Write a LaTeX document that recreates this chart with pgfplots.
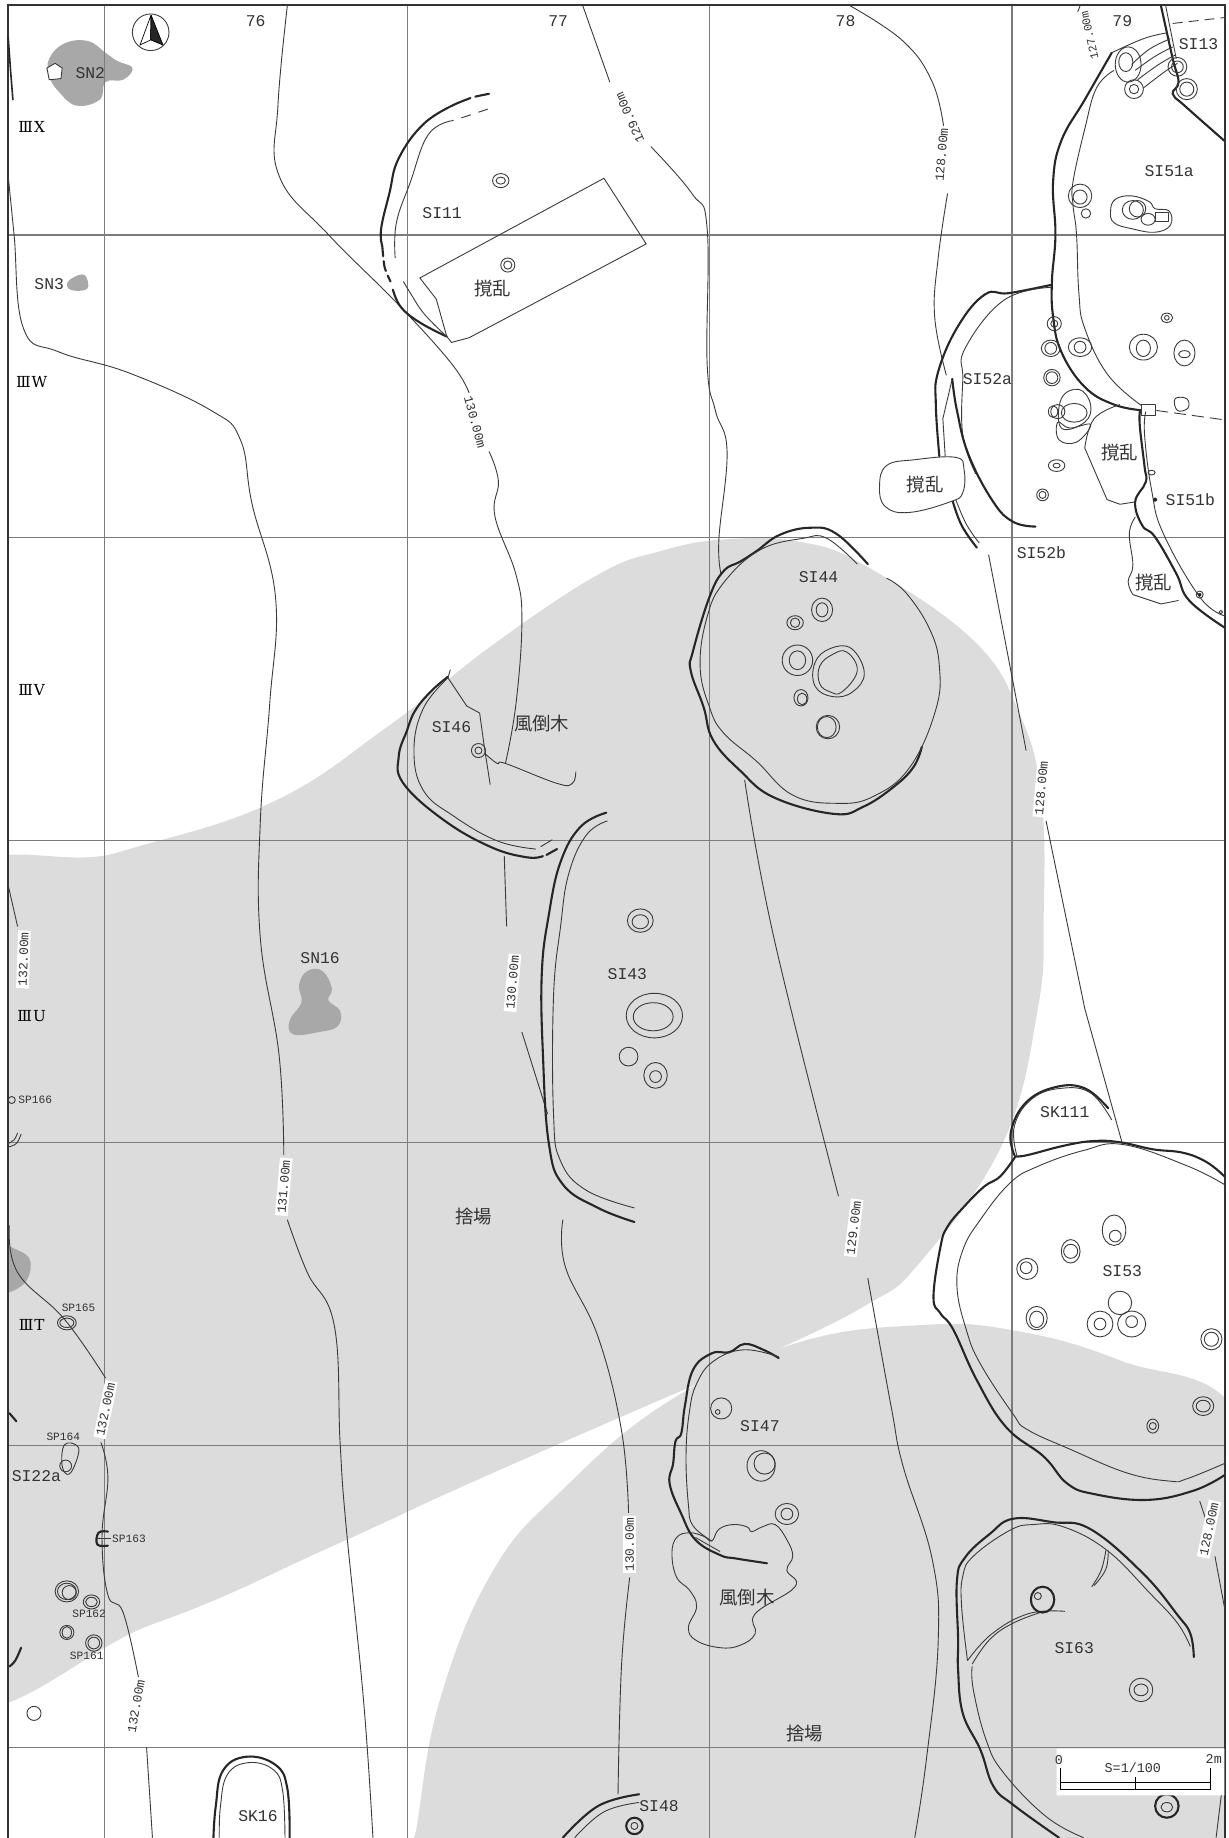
\documentclass[border=0pt]{standalone}
\usepackage{fontspec}
\setmainfont{Liberation Serif}
\setmonofont{Liberation Mono}
\newfontfamily\cjk{Noto Sans CJK JP}
\newfontfamily\rnf{DejaVu Serif}
\usepackage{pgfplots}
\pgfplotsset{compat=1.18}
\definecolor{area}{HTML}{DCDCDC}
\definecolor{ash}{HTML}{A8A8A8}
\definecolor{gridc}{HTML}{7C7C7C}
\definecolor{ink}{HTML}{333333}
\definecolor{ln}{HTML}{3A3A3A}
\tikzset{
  thinl/.style={draw=ln,line width=0.45pt,line join=round},
  thickl/.style={draw=black!85,line width=1.05pt,line join=round,line cap=round},
  lab/.style={font=\ttfamily\fontsize{8.2}{8}\selectfont,text=ink,inner sep=0pt},
  sm/.style={font=\ttfamily\fontsize{5.6}{6}\selectfont,text=ink,inner sep=0pt},
  sb/.style={font=\ttfamily\fontsize{6.7}{7}\selectfont,text=ink,inner sep=0pt},
  con/.style={font=\ttfamily\fontsize{6.4}{6}\selectfont,text=ink,fill=white,inner sep=1pt},
  jp/.style={font=\cjk\fontsize{9.2}{10}\selectfont,text=ink,inner sep=0pt},
  rn/.style={font=\rnf\fontsize{7.6}{9}\selectfont,text=black,inner sep=0pt},
}
\newcommand\thn[1]{\addplot[thinl,smooth,tension=.7] coordinates {#1};}
\newcommand\thk[1]{\addplot[thickl,smooth,tension=.7] coordinates {#1};}
\newcommand\shp[1]{\addplot[thinl] coordinates {#1};}
\newcommand\blob[1]{\addplot[thinl,smooth cycle,tension=.7] coordinates {#1};}
\newcommand\ring[5][thinl]{%
  \pgfmathsetmacro\xa{#2+#4}\pgfmathsetmacro\xb{#2-#4}%
  \pgfmathsetmacro\ya{#3+#5}\pgfmathsetmacro\yb{#3-#5}%
  \edef\tmp{\noexpand\addplot[#1,smooth cycle,tension=1] coordinates {(\xa,#3) (#2,\ya) (\xb,#3) (#2,\yb)};}\tmp}
\newcommand\lb[4][lab]{\node[#1] at (axis cs:#2,#3) {#4};}
\newcommand\cl[4]{\node[con,rotate=#3] at (axis cs:#1,#2) {#4};}
\begin{document}
\begin{tikzpicture}
\begin{axis}[
  width=614.5pt,height=919pt,scale only axis,hide axis,
  xmin=0,xmax=1048,ymin=0,ymax=1567.3,y dir=reverse,no markers]
% gray areas
\addplot[fill=area,draw=none,smooth cycle,tension=.7] coordinates {(-60,772) (100,727) (230,685) (330,620) (420,550) (510,490) (563,470) (617,460) (682,462) (739,483) (830,546) (870,610) (888,680) (890,780) (885,860) (855,975) (784,1077) (740,1112) (660,1152) (560,1195) (400,1265) (280,1320) (130,1385) (-60,1440) (-120,1100)};
\addplot[fill=area,draw=none,smooth cycle,tension=.7] coordinates {(345,1630) (355,1560) (375,1450) (420,1340) (480,1270) (570,1195) (680,1145) (784,1130) (862,1134) (955,1160) (1060,1212) (1090,1400) (1060,1640) (700,1660)};
% ash patches
\addplot[fill=ash,draw=none,smooth cycle,tension=.7] coordinates {(42,50) (55,37) (75,35) (90,45) (100,52) (113,58) (105,68) (90,70) (85,85) (65,90) (50,78) (42,65)};
\addplot[fill=ash,draw=none,smooth cycle,tension=.7] coordinates {(58,240) (70,234) (75,240) (73,247) (60,247)};
\addplot[fill=ash,draw=none,smooth cycle,tension=.7] coordinates {(262,828) (275,828) (283,843) (280,853) (290,862) (288,875) (272,880) (250,882) (247,870) (257,855) (255,840)};
\addplot[fill=ash,draw=none,smooth cycle,tension=.7] coordinates {(0,1065) (15,1066) (26,1076) (20,1095) (0,1100)};
\addplot[fill=white,draw=ln,line width=0.45pt] coordinates {(40,58) (47,54) (53,58) (52,67) (42,68) (40,58)};
% margins outside the frame
\addplot[fill=white,draw=none] coordinates {(-2,-2) (6.5,-2) (6.5,1570) (-2,1570) (-2,-2)};
\addplot[fill=white,draw=none] coordinates {(1044.6,-2) (1050,-2) (1050,1570) (1044.6,1570) (1044.6,-2)};
\addplot[fill=white,draw=none] coordinates {(-2,-2) (1050,-2) (1050,4) (-2,4) (-2,-2)};
% grid
\foreach \x in {89.3,347.5,605,863}{\edef\t{\noexpand\addplot[gridc,line width=0.6pt] coordinates {(\x,4.5) (\x,1567.3)};}\t}
\foreach \y in {200.4,458.5,716.4,974.4,1232.4,1490.3}{\edef\t{\noexpand\addplot[gridc,line width=0.6pt] coordinates {(7,\y) (1044.6,\y)};}\t}
\addplot[black!80,line width=0.9pt] coordinates {(7,1567.3) (7,4.5) (1044.6,4.5) (1044.6,1567.3)};
% contours
\thn{(7,150) (12,200) (20,280) (50,300) (110,318) (180,350) (205,375) (215,430) (235,510) (230,600) (222,700) (222,800) (238,900) (242,985)}
\thn{(245,1040) (262,1085) (285,1130) (290,1230) (295,1300) (310,1450) (318,1567)}
\thn{(245,5) (237,90) (238,150) (280,200) (340,260) (385,310) (400,335)}
\thn{(417,385) (425,410) (422,440) (440,490) (445,530) (440,600) (431,651)}
\thn{(430,730) (432,790)}
\thn{(445,880) (467,950)}
\thn{(480,1040) (482,1080) (510,1140) (530,1220) (536,1290)}
\thn{(537,1345) (530,1420) (527,1530)}
\thn{(497,5) (520,70)} \thn{(555,125) (590,165) (603,195) (603,310) (610,350) (620,385) (613,460) (615,490)}
\thn{(635,665) (660,800) (715,1020)} \thn{(740,1090) (760,1200) (770,1250) (795,1330) (800,1400) (790,1500) (780,1567)}
\thn{(725,5) (770,35) (795,70) (805,110)} \thn{(808,165) (800,220) (797,270) (807,320)}
\shp{(843,473) (875,640)} \shp{(892,700) (925,860) (957,975)}
\shp{(1023,1280) (1028,1295)} \thn{(1036,1327) (1044,1370)}
\thn{(1043,1518) (1037,1567)}
\thn{(921,5) (919,10)}
\thn{(8,1045) (15,1085) (55,1125) (90,1175)}
\thn{(86,1230) (92,1260) (87,1310) (92,1360) (105,1375) (118,1430)}
\thn{(125,1490) (130,1567)}
\thn{(7,755) (15,790)}
\addplot[thickl,line width=0.8pt] coordinates {(7,32) (9,60) (11,85)};
\cl{242}{1012}{85}{131.00m}
\cl{405}{360}{-75}{130.00m}
\cl{437}{838}{85}{130.00m}
\cl{537}{1317}{90}{130.00m}
\cl{537}{100}{114}{129.00m}
\cl{728}{1047}{83}{129.00m}
\cl{803}{132}{85}{128.00m}
\cl{888}{672}{85}{128.00m}
\cl{1031}{1304}{78}{128.00m}
\node[font=\ttfamily\fontsize{5.8}{6}\selectfont,text=ink,inner sep=0pt,rotate=103] at (axis cs:929,30) {127.00m};
\cl{20}{818}{88}{132.00m}
\cl{90}{1202}{78}{132.00m}
\cl{116}{1455}{80}{132.00m}
% north arrow
\ring{128.5}{27.5}{15.6}{15.6}
\addplot[fill=white,draw=black,line width=0.35pt] coordinates {(128.8,12.8) (128.5,34) (119.4,38.4) (128.8,12.8)};
\addplot[fill=black!85,draw=black,line width=0.35pt] coordinates {(128.8,12.8) (128.5,34) (139,38.4) (128.8,12.8)};
% SI11
\addplot[thickl,smooth,dash pattern=on 7pt off 2.5pt] coordinates {(417,80) (403,83) (390,88)};
\thk{(390,88) (362,105) (340,135) (332,165) (325,195) (326,210)}
\addplot[thickl,smooth,dash pattern=on 5pt off 2.5pt] coordinates {(326,210) (328,228) (333,240)};
\thk{(335,247) (342,262) (358,275) (381,287)}
\addplot[thinl,smooth,dash pattern=on 5pt off 4pt] coordinates {(416,93) (395,100) (385,103)};
\thn{(385,103) (365,115) (350,155) (338,190) (337,220)}
\thn{(344,240) (350,250) (362,268) (381,287)}
\shp{(381,287) (372,255) (358,237) (515,152) (551,208) (400,288) (385,292) (381,287)}
\ring{427}{154}{7}{6} \ring{427}{154}{4}{3}
\ring{433}{226}{6}{6} \ring{433}{226}{3.5}{3.5}
% SI51a
\thk{(948,45) (925,85) (905,120) (898,155) (900,200) (897,240) (898,270) (905,300) (925,330) (950,345) (975,350)}
\thn{(950,60) (935,75) (925,110) (915,155) (915,175) (918,200) (920,250) (925,280) (945,320) (975,347)}
\thk{(990,5) (1000,50) (1005,70) (1000,80) (1010,90) (1044,120)}
\thn{(994,5) (1003,50)}
\addplot[thinl,dash pattern=on 5pt off 3pt] coordinates {(1000,20) (1044,15)};
\thn{(948,45) (975,33) (995,28)} \thn{(965,55) (980,42) (998,33)} \thn{(968,60) (985,48) (1000,40)}
\thn{(970,68) (988,55) (1002,47)} \thn{(975,75) (992,62) (1004,54)}
\ring{962}{55}{11}{15} \ring{960}{53}{6}{8}
\ring{967}{76}{8}{8} \ring{967}{76}{4}{4}
\ring{1004}{57}{8}{8} \ring{1004}{57}{5}{5}
\ring{1012}{76}{9}{9} \ring{1012}{76}{6}{6}
\ring{921}{167}{10}{10} \ring{921}{168}{6}{6} \ring{926}{182}{4}{4}
\blob{(951,170) (965,167) (980,172) (985,178) (997,180) (998,192) (985,198) (965,195) (950,190) (947,180)}
\ring{970}{178}{7}{7} \ring{966}{179}{9}{8} \ring{979}{187}{6}{5}
\shp{(985,181) (996,181) (996,189) (985,189) (985,181)}
\ring{995}{271}{5}{4} \ring{995}{271}{2}{2}
\ring{975}{296}{12}{11} \ring{975}{297}{6}{7}
\ring{1010}{301}{9}{11} \ring{1010}{302}{5}{3}
\ring{921}{296}{10}{8} \ring{921}{296}{5}{5}
\ring{899}{276}{6}{6} \ring{899}{276}{3}{3}
\ring{896}{297}{8}{7} \ring{896}{297}{5}{5}
\ring{897}{322}{7}{7} \ring{897}{322}{5}{5}
\blob{(905,340) (920,332) (930,345) (925,360) (905,365)}
\blob{(902,360) (903,375) (918,377) (930,362) (912,365)}
\ring{902}{351}{6}{6} \ring{898}{351}{4}{5} \ring{916}{352}{11}{8}
\ring{901}{397}{7}{5} \ring{901}{397}{3}{2}
\ring{889}{422}{5}{5} \ring{889}{422}{3}{3}
\blob{(1002,340) (1012,340) (1013,348) (1004,350)}
\addplot[fill=white,thinl] coordinates {(973,345) (985,345) (985,354) (973,354) (973,345)};
\addplot[thinl,dash pattern=on 6pt off 3pt] coordinates {(986,350) (1044,358)};
% SI52
\thk{(896,243) (860,250) (840,251) (817,278) (800,317) (798,345) (801,389)}
\thn{(896,245) (856,256) (823,297) (821,323) (821,371) (832,404)}
\shp{(806,389) (804,357) (812,323)}
\thk{(812,323) (816,350) (826,388) (847,428) (864,445) (883,449)}
\thk{(812,426) (820,448) (833,467)} \thn{(815,426) (824,447) (835,463)}
\addplot[fill=white,thinl,smooth cycle,tension=.7] coordinates {(750,415) (756,397) (780,392) (815,390) (822,400) (821,420) (810,428) (775,437) (755,432)};
% SI51b
\thk{(972,351) (972,364) (976,398) (977,411) (968,428) (974,448) (985,458) (1003,489) (1014,512) (1044,535)}
\thn{(977,351) (976,371) (982,418) (992,455) (1023,509) (1044,525)}
\thn{(955,345) (933,357) (925,382)} \shp{(925,382) (944,426) (955,430) (968,428)}
\thn{(968,441) (963,455) (966,482) (962,496) (966,507)} \shp{(966,507) (990,515) (1005,512)}
\ring{982}{403}{3}{2} \ring[thickl]{985}{426}{1}{1} \ring{1023}{507}{3}{3} \ring[thickl]{1023}{507}{.7}{.7}
\ring{1041}{522}{1.5}{1.5}
% SI44
\thk{(740,481) (713,455) (691,450) (665,456) (645,470) (631,479) (617,487) (605,509) (591,555) (589,572) (600,603) (608,631) (631,657) (660,680) (711,694) (736,688) (762,671) (779,654) (786,637)}
\thn{(731,481) (705,459) (685,459) (648,469) (617,497) (603,526) (597,568) (605,603) (617,625) (645,649) (676,678) (714,685) (745,679) (776,654) (798,605) (801,568) (793,537) (773,506) (756,493)}
\ring{701}{520}{9}{10} \ring{701}{520}{5}{6}
\ring{678}{531}{7}{6} \ring{678}{531}{4}{4}
\ring{680}{563}{13}{13} \ring{680}{563}{7}{8}
\blob{(737,574) (726,553) (708,553) (695,565) (695,585) (710,594) (727,590)}
\blob{(731,572) (722,556) (710,558) (699,568) (699,583) (708,590) (718,590)}
\ring{683}{595}{6}{7} \ring{684}{596}{4}{5}
\ring{706}{620}{10}{10} \ring{705}{620}{8}{9}
% SI46
\thk{(382,577) (367,590) (354,606) (347,623) (340,645) (344,668) (378,699) (418,722) (449,731) (463,730)}
\thk{(466,729) (475,724)}
\thn{(382,578) (361,604) (353,640) (361,674) (387,696) (424,717) (457,724)}
\thn{(461,722) (471,716)}
\shp{(384,571) (382,578) (398,602) (409,608) (413,637) (418,669)}
\thn{(413,642) (424,651) (431,651) (475,668) (488,668) (491,658)}
\ring{408}{640}{6}{6} \ring{408}{640}{3}{3}
% SI43
\thk{(517,693) (495,705) (478,735) (468,780) (462,830) (463,900) (468,975) (480,1010) (510,1030) (541,1042)}
\thn{(518,700) (500,712) (485,745) (478,790) (472,850) (472,950) (478,990) (500,1015) (541,1030)}
\ring{546}{785}{11}{10} \ring{546}{786}{7}{6}
\ring{558}{866}{24}{19} \ring{557}{867}{17}{12}
\ring{536}{901}{8}{8}
\ring{559}{917}{10}{11} \ring{559}{918}{5}{5}
% SK111
\thk{(865,985) (862,965) (875,940) (900,927) (925,928) (945,945)}
\thn{(867,985) (865,960) (880,937) (905,928) (930,932) (948,955)}
% SI53
\thk{(866,986) (876,985) (907,977) (932,973) (955,974) (983,980) (1009,983) (1029,991) (1044,1003)}
\thk{(866,986) (853,1003) (839,1012) (822,1029) (808,1046) (802,1063) (796,1106) (802,1120) (813,1134) (833,1177) (858,1217) (890,1242) (910,1265) (933,1274) (978,1279) (1018,1271) (1044,1258)}
\thn{(1044,1010) (1012,994) (958,976) (924,981) (884,995) (861,1009) (836,1040) (821,1066) (816,1097) (824,1134) (836,1163) (864,1206) (876,1219) (913,1236) (961,1256) (998,1263) (1012,1261) (1044,1248)}
\ring{950}{1049}{10}{13} \ring{951}{1054}{5}{5}
\ring{913}{1067}{8}{10} \ring{913}{1067}{6}{6}
\ring{876}{1082}{9}{9} \ring{875}{1081}{5}{5}
\ring{884}{1124}{9}{10} \ring{884}{1125}{6}{7}
\ring{938}{1129}{11}{11} \ring{938}{1129}{5}{5}
\ring{955}{1111}{10}{10}
\ring{965}{1129}{12}{11} \ring{965}{1127}{5}{5}
\ring{1033}{1142}{9}{9} \ring{1033}{1142}{6}{6}
\ring{1026}{1199}{9}{8} \ring{1026}{1199}{6}{5}
\ring{983}{1216}{5}{6} \ring{983}{1216}{3}{3}
% SI47
\thk{(664,1158) (651,1151) (635,1146) (622,1153) (607,1154) (591,1168) (584,1199) (581,1222) (576,1229) (574,1248) (571,1265) (581,1291) (593,1313) (614,1326) (628,1329) (654,1333)}
\thn{(664,1157) (634,1151) (608,1161) (594,1180) (588,1203) (585,1240) (587,1283) (591,1301) (607,1314)}
\thn{(593,1311) (614,1323)}
\blob{(607,1314) (613,1304) (625,1300) (637,1302) (641,1306) (650,1302) (661,1300) (671,1313) (676,1327) (671,1339) (678,1353) (644,1376) (644,1393) (631,1403) (614,1405) (594,1399) (587,1388) (594,1370) (588,1356) (577,1345) (573,1325) (577,1311) (588,1307) (600,1310)}
\ring{615}{1201}{9}{9} \ring{612}{1204}{2}{2}
\ring{649}{1250}{12}{13} \ring{652}{1248}{9}{9}
\ring{671}{1291}{10}{9} \ring{671}{1291}{5}{5}
% SI63
\thk{(1018,1413) (1015,1393) (1004,1377) (975,1342) (930,1304) (898,1298) (864,1295) (844,1308) (823,1328) (816,1348) (817,1398) (817,1424) (821,1461) (836,1492) (847,1523) (864,1539) (903,1567)}
\thn{(1015,1404) (1004,1384) (981,1359) (944,1322) (907,1302) (881,1300) (861,1305) (830,1327) (821,1344) (820,1370) (825,1416)}
\thn{(825,1416) (846,1393) (877,1376) (908,1374)}
\thn{(829,1419) (844,1398) (864,1384) (890,1374)}
\thn{(829,1421) (830,1441) (841,1484) (856,1512) (892,1549) (924,1567)}
\thn{(943,1322) (939,1339) (931,1353)} \thn{(945,1322) (943,1338) (933,1352)}
\ring[thickl]{889}{1364}{10}{11} \ring{885}{1361}{3}{3}
\ring{973}{1441}{10}{10} \ring{973}{1441}{6}{5}
\ring[thickl]{995}{1540}{10}{10} \ring{995}{1541}{5}{4}
% SK16, SI48
\thk{(182,1567) (184,1540) (190,1510) (210,1498) (235,1505) (245,1525) (247,1567)}
\thn{(187,1567) (188,1540) (194,1513) (212,1503) (233,1509) (241,1527) (243,1567)}
\thk{(480,1567) (510,1540) (545,1530)} \thn{(490,1567) (515,1545) (545,1537)}
\ring[thickl]{541}{1557}{7}{7} \ring{541}{1557}{3}{3}
% left column
\ring{10}{938}{3}{3}
\thn{(7,975) (12,972) (15,966)} \thn{(7,978) (14,975) (18,967)}
\ring{57}{1128}{8}{6} \ring{57}{1128}{6}{4}
\blob{(55,1232) (66,1233) (66,1243) (59,1257) (53,1250)}
\ring{56}{1250}{5}{5}
\thk{(92,1306) (84,1307) (83,1317) (92,1318)}
\shp{(83,1312) (95,1312)}
\ring{57}{1357}{10}{9} \ring{57}{1357}{8}{7} \ring{59}{1358}{6}{6}
\ring{78}{1366}{7}{6} \ring{78}{1366}{5}{4}
\ring{57}{1392}{6}{6} \ring{57}{1392}{4}{5}
\ring{80}{1401}{7}{7} \ring{80}{1401}{5}{5}
\ring{29}{1461}{6}{6}
\thk{(8,1205) (14,1212)} \thk{(8,1421) (13,1416) (18,1405)}
% scale bar
\addplot[fill=white,draw=none] coordinates {(901,1491) (1044,1491) (1044,1531) (901,1531) (901,1491)};
\addplot[black,line width=0.5pt] coordinates {(904,1508) (904,1526) (1032,1526) (1032,1508)};
\addplot[black,line width=0.4pt] coordinates {(904,1520) (1032,1520)};
\addplot[black,line width=0.4pt] coordinates {(968,1515) (968,1526)};
% labels
\lb{77}{62}{SN2} \lb{42}{242}{SN3} \lb{273}{817}{SN16}
\lb{218}{18}{76} \lb{476}{18}{77} \lb{721}{18}{78} \lb{957}{18}{79}
\lb[rn]{27}{108}{Ⅲ\kern.5pt X} \lb[rn]{27}{326}{Ⅲ\kern.5pt W} \lb[rn]{27}{588}{Ⅲ\kern.5pt V} \lb[rn]{27}{866}{Ⅲ\kern.5pt U} \lb[rn]{27}{1130}{Ⅲ\kern.5pt T}
\lb{377}{182}{SI11} \lb{1022}{38}{SI13} \lb{997}{146}{SI51a} \lb{842}{323}{SI52a} \lb{1015}{426}{SI51b} \lb{888}{471}{SI52b}
\lb{698}{492}{SI44} \lb{385}{620}{SI46} \lb{535}{831}{SI43} \lb{908}{948}{SK111} \lb{957}{1084}{SI53} \lb{648}{1216}{SI47}
\lb{916}{1405}{SI63} \lb{220}{1549}{SK16} \lb{562}{1540}{SI48} \lb{31}{1259}{SI22a}
\lb[jp]{420}{246}{撹乱} \lb[jp]{789}{413}{撹乱} \lb[jp]{955}{386}{撹乱} \lb[jp]{984}{497}{撹乱}
\lb[jp]{462}{617}{風倒木} \lb[jp]{637}{1362}{風倒木} \lb[jp]{404}{1037}{捨場} \lb[jp]{686}{1478}{捨場}
\lb[sm]{30}{938}{SP166} \lb[sm]{67}{1115}{SP165} \lb[sm]{54}{1225}{SP164} \lb[sm]{110}{1312}{SP163} \lb[sm]{76}{1376}{SP162} \lb[sm]{74}{1412}{SP161}
\lb[sb]{903}{1501}{0} \lb[sb]{966}{1507}{S=1/100} \lb[sb]{1035}{1500}{2m}
\end{axis}
\end{tikzpicture}
\end{document}
